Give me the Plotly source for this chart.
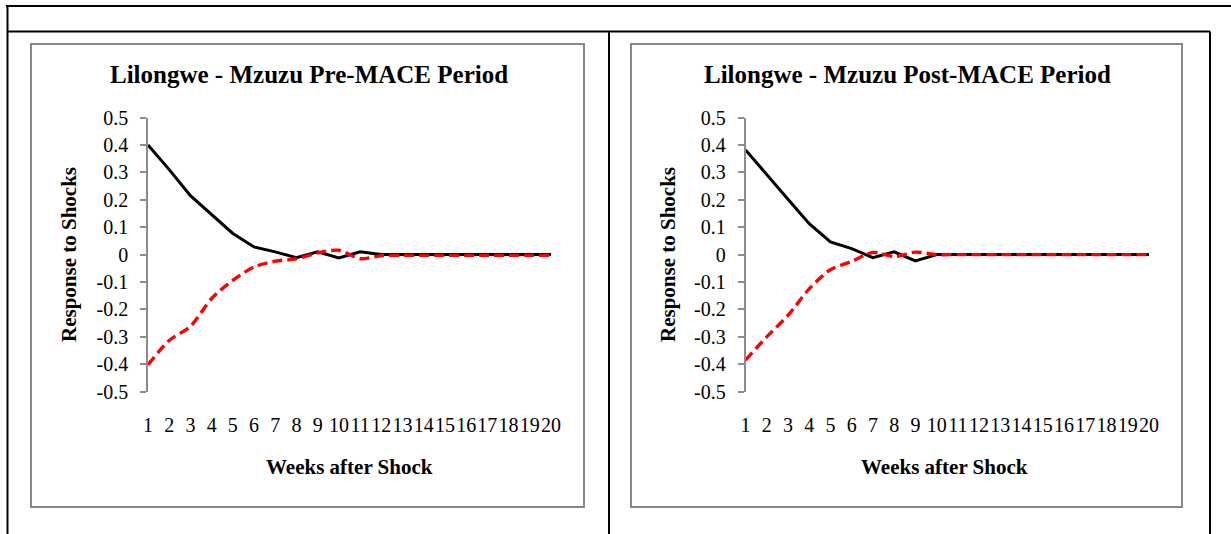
import plotly.graph_objects as go

W, H = 1231, 534

# Impulse responses, weeks 1..20
weeks = list(range(1, 21))
pre_black = [0.400, 0.310, 0.215, 0.145, 0.077, 0.028, 0.010, -0.011, 0.010, -0.012,
             0.010, 0.0, 0.0, 0.0, 0.0, 0.0, 0.0, 0.0, 0.0, 0.0]
pre_red = [-0.402, -0.313, -0.262, -0.160, -0.094, -0.045, -0.024, -0.015, 0.006, 0.016,
           -0.015, -0.004, -0.003, -0.003, -0.003, -0.003, -0.003, -0.003, -0.003, -0.003]
post_black = [0.382, 0.290, 0.202, 0.113, 0.046, 0.022, -0.011, 0.010, -0.023, 0.0,
              0.0, 0.0, 0.0, 0.0, 0.0, 0.0, 0.0, 0.0, 0.0, 0.0]
post_red = [-0.385, -0.300, -0.222, -0.125, -0.055, -0.025, 0.008, -0.007, 0.009, 0.0,
            0.0, 0.0, 0.0, 0.0, 0.0, 0.0, 0.0, 0.0, 0.0, 0.0]

titles = ["Lilongwe - Mzuzu Pre-MACE Period", "Lilongwe - Mzuzu Post-MACE Period"]
x_title = "Weeks after Shock"
y_title = "Response to Shocks"
y_ticks = [-0.5, -0.4, -0.3, -0.2, -0.1, 0, 0.1, 0.2, 0.3, 0.4, 0.5]
y_tick_text = ["-0.5", "-0.4", "-0.3", "-0.2", "-0.1", "0", "0.1", "0.2", "0.3", "0.4", "0.5"]

FONT = "Liberation Serif"


def px(x):
    return x / W


def py(y):
    return 1 - y / H


fig = go.Figure()

# panel layout in pixels: plot left/right, title x, x-title x, y-title x, frame box
panels = [
    dict(x0=148, x1=551, tx=309, xtx=349, ytx=69, box=(31, 44, 584, 507)),
    dict(x0=745.5, x1=1149, tx=907, xtx=944, ytx=668, box=(631, 44, 1182, 507)),
]
series = [(pre_black, pre_red), (post_black, post_red)]
plot_top, plot_bottom = 117.5, 391.7

shapes = []
annotations = []

for i, (p, (blk, red)) in enumerate(zip(panels, series)):
    xa = "x" if i == 0 else "x2"
    ya = "y" if i == 0 else "y2"
    fig.add_trace(go.Scatter(x=weeks, y=blk, mode="lines", xaxis=xa, yaxis=ya,
                             line=dict(color="black", width=3), showlegend=False))
    fig.add_trace(go.Scatter(x=weeks, y=red, mode="lines", xaxis=xa, yaxis=ya,
                             line=dict(color="#ff0000", width=3.4, dash="10px,5px",
                                       shape="spline", smoothing=0.8),
                             showlegend=False))
    axis_x = dict(domain=[px(p["x0"]), px(p["x1"])], range=[1, 20],
                  tickmode="array", tickvals=weeks, ticktext=[str(w) for w in weeks],
                  tickangle=0, showgrid=False, zeroline=False, showline=False, ticks="",
                  tickfont=dict(family=FONT, size=20, color="black"),
                  ticklabelstandoff=19, anchor=ya, automargin=False)
    axis_y = dict(domain=[py(plot_bottom), py(plot_top)], range=[-0.5, 0.5],
                  tickmode="array", tickvals=y_ticks, ticktext=y_tick_text,
                  showgrid=False, zeroline=False, showline=True, linecolor="#8c8c8c",
                  linewidth=1.5, ticks="outside", ticklen=6, tickcolor="#8c8c8c",
                  tickwidth=1.5, tickfont=dict(family=FONT, size=20, color="black"),
                  ticklabelstandoff=8, anchor=xa, automargin=False)
    if i == 0:
        fig.update_layout(xaxis=axis_x, yaxis=axis_y)
    else:
        fig.update_layout(xaxis2=axis_x, yaxis2=axis_y)

    bx0, by0, bx1, by1 = p["box"]
    shapes.append(dict(type="rect", xref="paper", yref="paper",
                       x0=px(bx0), x1=px(bx1), y0=py(by1), y1=py(by0),
                       line=dict(color="#888888", width=2), fillcolor="rgba(0,0,0,0)",
                       layer="below"))
    annotations.append(dict(text=titles[i], x=px(p["tx"]), y=py(74), xref="paper", yref="paper",
                            showarrow=False, xanchor="center", yanchor="middle",
                            font=dict(family=FONT, size=25, color="black", weight="bold")))
    annotations.append(dict(text=x_title, x=px(p["xtx"]), y=py(467), xref="paper", yref="paper",
                            showarrow=False, xanchor="center", yanchor="middle",
                            font=dict(family=FONT, size=21, color="black", weight="bold")))
    annotations.append(dict(text=y_title, x=px(p["ytx"]), y=py(255), xref="paper", yref="paper",
                            showarrow=False, xanchor="center", yanchor="middle", textangle=-90,
                            font=dict(family=FONT, size=21, color="black", weight="bold")))

# outer table frame
frame = [
    (6, 6, 1231, 6),
    (7, 31.5, 1210, 31.5),
    (7.5, 6, 7.5, 534),
    (609, 31.5, 609, 534),
    (1210, 31.5, 1210, 534),
]
for x0, y0, x1, y1 in frame:
    shapes.append(dict(type="line", xref="paper", yref="paper",
                       x0=px(x0), x1=px(x1), y0=py(y0), y1=py(y1),
                       line=dict(color="black", width=2)))

fig.update_layout(width=W, height=H, margin=dict(l=0, r=0, t=0, b=0, pad=0),
                  paper_bgcolor="white", plot_bgcolor="rgba(0,0,0,0)",
                  shapes=shapes, annotations=annotations, showlegend=False)

fig.write_html("out.html",
               post_script="document.body.style.margin='0';document.body.style.overflow='hidden';")
